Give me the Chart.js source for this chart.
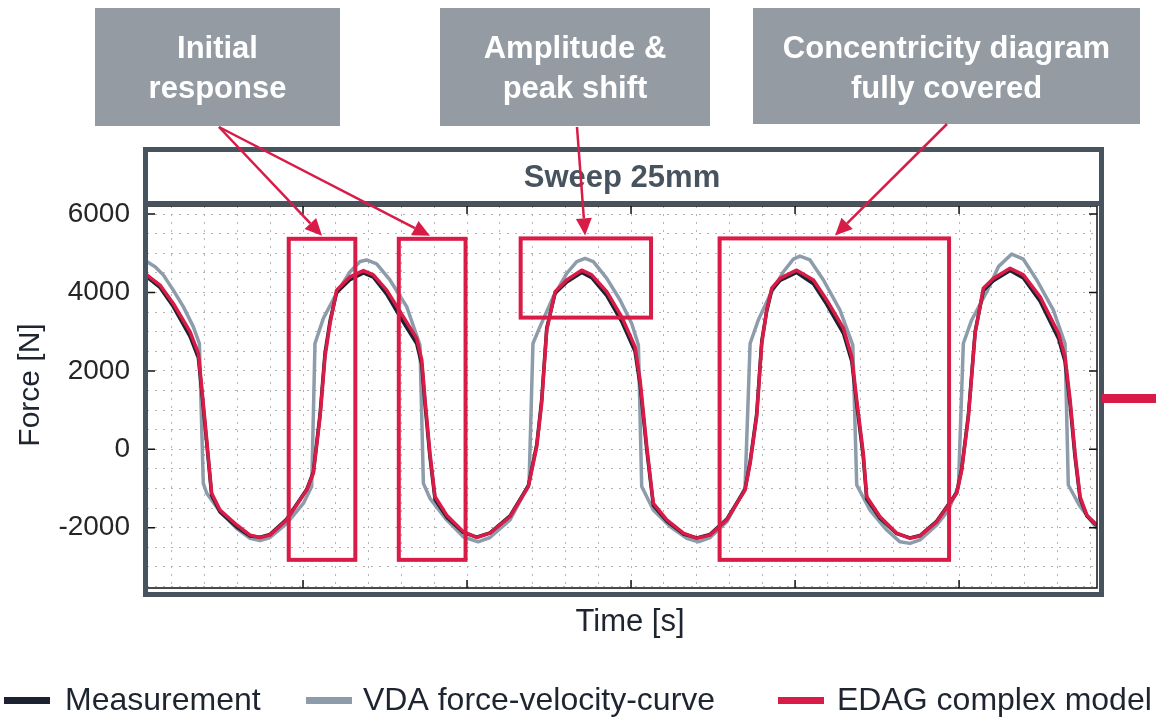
<!DOCTYPE html>
<html>
<head>
<meta charset="utf-8">
<script src="https://cdn.jsdelivr.net/npm/chart.js@4"></script>
<style>
  body { margin: 0; background: #fff; }
  canvas { display: block; }
</style>
</head>
<body>
<canvas id="chart" width="1156" height="718"></canvas>
<script>
// Sweep 25mm: force over time, three series
const edagTime = [0.047,0.128,0.209,0.311,0.362,0.382,0.413,0.443,0.494,0.596,
  0.677,0.738,0.799,0.901,1.023,1.063,1.104,1.134,1.165,1.205,
  1.287,1.368,1.429,1.510,1.612,1.693,1.724,1.744,1.774,1.805,
  1.876,1.977,2.059,2.140,2.262,2.374,2.425,2.455,2.486,2.537,
  2.608,2.699,2.760,2.852,2.943,3.024,3.055,3.096,3.136,3.218,
  3.319,3.401,3.482,3.584,3.695,3.726,3.766,3.797,3.827,3.858,
  3.909,4.010,4.112,4.193,4.295,4.346,4.376,4.416,4.437,4.518,
  4.620,4.701,4.762,4.864,4.986,5.016,5.057,5.098,5.148,5.209,
  5.311,5.392,5.494,5.606,5.646,5.677,5.707,5.738,5.779,5.840];
const edagForce = [4450,4190,3720,3000,2450,1600,240,-1120,-1550,-1930,
  -2190,-2250,-2190,-1800,-1040,-610,830,2360,3210,4060,
  4400,4560,4450,4060,3380,2830,2280,1260,-100,-1210,
  -1680,-2100,-2250,-2140,-1720,-950,70,1170,3040,4020,
  4320,4570,4450,4020,3380,2620,1770,70,-1380,-1800,
  -2140,-2270,-2190,-1800,-1040,-360,830,2700,3550,4110,
  4360,4570,4320,3810,3090,2360,1260,-100,-1210,-1720,
  -2140,-2270,-2210,-1850,-1120,-530,830,2960,4110,4360,
  4620,4450,3890,2960,2360,1260,-100,-1210,-1680,-1930];
// measurement sampled at the same times as the model
const measForce = [4400,4130,3640,2880,2330,1500,150,-1180,-1600,-1980,
  -2210,-2240,-2170,-1780,-1020,-580,900,2450,3280,4000,
  4330,4500,4390,3960,3240,2700,2160,1150,-200,-1280,
  -1730,-2120,-2240,-2130,-1700,-930,120,1250,3090,3980,
  4270,4510,4380,3920,3260,2500,1650,-20,-1430,-1830,
  -2160,-2260,-2170,-1780,-1020,-320,900,2760,3520,4060,
  4310,4510,4220,3700,2960,2240,1150,-200,-1270,-1760,
  -2150,-2260,-2200,-1830,-1100,-500,880,3000,4050,4300,
  4560,4370,3780,2830,2240,1150,-200,-1260,-1700,-1940];
const vdaTime = [0.047,0.098,0.148,0.209,0.270,0.331,0.368,0.392,0.413,0.494,
  0.596,0.677,0.738,0.799,0.901,1.002,1.053,1.073,1.124,1.205,
  1.287,1.348,1.388,1.449,1.530,1.632,1.713,1.734,1.774,1.876,
  1.977,2.067,2.140,2.262,2.378,2.402,2.445,2.526,2.608,2.669,
  2.720,2.770,2.852,2.933,3.004,3.045,3.065,3.136,3.238,3.340,
  3.410,3.482,3.584,3.695,3.726,3.776,3.848,3.929,3.990,4.030,
  4.091,4.173,4.274,4.352,4.376,4.457,4.559,4.640,4.701,4.762,
  4.864,4.935,4.996,5.026,5.077,5.169,5.240,5.321,5.392,5.474,
  5.575,5.646,5.666,5.738,5.840];
const vdaForce = [4790,4660,4450,4060,3640,3130,2700,-870,-1120,-1590,
  -2020,-2270,-2330,-2250,-1890,-1380,-950,2700,3340,3980,
  4530,4790,4830,4730,4320,3640,2660,-870,-1250,-1800,
  -2230,-2360,-2250,-1800,-890,2700,3130,3890,4490,4790,
  4870,4790,4360,3810,3210,2660,-950,-1550,-1970,-2270,
  -2360,-2250,-1850,-990,2700,3300,3940,4530,4850,4930,
  4830,4320,3550,2660,-910,-1550,-2060,-2360,-2400,-2310,
  -1930,-1550,-950,2700,3300,4020,4660,4980,4850,4320,
  3550,2700,-910,-1460,-2020];

const yTickLabels = [-2000, 0, 2000, 4000, 6000];
const xMajorTicks = [1, 2, 3, 4, 5];

// highlighted regions (time / force)
const hlStart = [0.913, 1.584, 2.327, 3.540];
const hlEnd = [1.319, 1.991, 3.122, 4.939];
const hlTop = [5370, 5370, 5380, 5380];
const hlBottom = [-2820, -2820, 3360, -2820];

const notes = [['Initial', 'response'], ['Amplitude &', 'peak shift'], ['Concentricity diagram', 'fully covered']];
const arrowNote = [0, 0, 1, 2];
const arrowBox = [0, 1, 2, 3];
const arrowTime = [1.116, 1.774, 2.720, 4.244];

const FONT = '"Liberation Sans", Arial, sans-serif';
const RED = '#d81b47';
const GRAY = '#8c9cab';
const BLACK = '#1c2230';
const FRAME = '#47535f';

const toPoints = (t, f) => t.map((v, i) => ({x: v, y: f[i]}));

// note boxes at the top, in page pixels
const noteBoxes = [
  {x: 95, y: 8, w: 245, h: 118},
  {x: 440, y: 8, w: 270, h: 118},
  {x: 753, y: 8, w: 387, h: 116}
];

function arrow(ctx, x1, y1, x2, y2) {
  const a = Math.atan2(y2 - y1, x2 - x1);
  const len = 17, half = 8;
  const bx = x2 - len * Math.cos(a), by = y2 - len * Math.sin(a);
  ctx.beginPath();
  ctx.moveTo(x1, y1);
  ctx.lineTo(bx, by);
  ctx.stroke();
  ctx.beginPath();
  ctx.moveTo(x2, y2);
  ctx.lineTo(bx + half * Math.sin(a), by - half * Math.cos(a));
  ctx.lineTo(bx - half * Math.sin(a), by + half * Math.cos(a));
  ctx.closePath();
  ctx.fill();
}

const decor = {
  id: 'decor',
  beforeDraw(chart) {
    const ctx = chart.ctx;
    ctx.save();
    ctx.fillStyle = '#fff';
    ctx.fillRect(0, 0, chart.width, chart.height);
    ctx.restore();
  },
  afterDatasetsDraw(chart) {
    const ctx = chart.ctx;
    const x = chart.scales.x, y = chart.scales.y;
    const area = chart.chartArea;
    ctx.save();

    // highlight rectangles
    ctx.strokeStyle = RED;
    ctx.lineWidth = 4;
    hlStart.forEach((s, i) => {
      const l = x.getPixelForValue(s), r = x.getPixelForValue(hlEnd[i]);
      const t = y.getPixelForValue(hlTop[i]), b = y.getPixelForValue(hlBottom[i]);
      ctx.strokeRect(l, t, r - l, b - t);
    });

    // axis border + inner ticks
    ctx.strokeStyle = '#111';
    ctx.lineWidth = 1.5;
    ctx.strokeRect(area.left, area.top, area.right - area.left, area.bottom - area.top);
    ctx.beginPath();
    xMajorTicks.forEach(v => {
      const px = x.getPixelForValue(v);
      ctx.moveTo(px, area.top); ctx.lineTo(px, area.top + 8);
      ctx.moveTo(px, area.bottom); ctx.lineTo(px, area.bottom - 8);
    });
    yTickLabels.forEach(v => {
      const py = y.getPixelForValue(v);
      ctx.moveTo(area.left, py); ctx.lineTo(area.left + 8, py);
      ctx.moveTo(area.right, py); ctx.lineTo(area.right - 8, py);
    });
    ctx.stroke();

    // frame with title band
    ctx.strokeStyle = FRAME;
    ctx.lineWidth = 5;
    ctx.strokeRect(145.5, 149.5, 956, 445);
    ctx.beginPath();
    ctx.moveTo(143, 203.5); ctx.lineTo(1104, 203.5);
    ctx.stroke();
    ctx.fillStyle = FRAME;
    ctx.font = 'bold 31px ' + FONT;
    ctx.textAlign = 'center';
    ctx.textBaseline = 'middle';
    ctx.fillText('Sweep 25mm', (area.left + area.right) / 2, 178);

    // note boxes
    noteBoxes.forEach((b, i) => {
      ctx.fillStyle = '#949ba2';
      ctx.fillRect(b.x, b.y, b.w, b.h);
      ctx.fillStyle = '#fff';
      ctx.font = 'bold 31px ' + FONT;
      ctx.fillText(notes[i][0], b.x + b.w / 2, 49);
      ctx.fillText(notes[i][1], b.x + b.w / 2, 89);
    });

    // arrows from notes to highlighted regions
    ctx.strokeStyle = RED;
    ctx.fillStyle = RED;
    ctx.lineWidth = 2.5;
    const starts = [[219, 127], [577, 127], [947, 124]];
    arrowTime.forEach((t, i) => {
      const s = starts[arrowNote[i]];
      arrow(ctx, s[0], s[1], x.getPixelForValue(t), y.getPixelForValue(hlTop[arrowBox[i]]) - 3);
    });

    // axis titles
    ctx.fillStyle = '#1e2530';
    ctx.font = '31px ' + FONT;
    ctx.fillText('Time [s]', 630, 622);
    ctx.save();
    ctx.translate(31, 385);
    ctx.rotate(-Math.PI / 2);
    ctx.font = '30px ' + FONT;
    ctx.fillText('Force [N]', 0, 0);
    ctx.restore();

    // legend
    const legendPos = [[4, 65], [306, 363], [778, 837]];
    ctx.textAlign = 'left';
    ctx.font = '32px ' + FONT;
    chart.data.datasets.forEach((ds, i) => {
      const p = legendPos[i];
      ctx.fillStyle = ds.borderColor;
      ctx.fillRect(p[0], 697, 46, 7);
      ctx.fillStyle = '#1e2530';
      ctx.fillText(ds.label, p[1], 701);
    });

    // side marker
    ctx.fillStyle = RED;
    ctx.fillRect(1102, 394, 54, 9);
    ctx.restore();
  }
};

const xGrid = [];
for (let k = 1; k <= 29; k++) xGrid.push(Math.round(k * 2) / 10);
const yGrid = [];
for (let v = -3500; v <= 6000; v += 500) yGrid.push(v);

new Chart(document.getElementById('chart'), {
  type: 'line',
  data: {
    datasets: [
      {label: 'Measurement', data: toPoints(edagTime, measForce), borderColor: BLACK, order: 1},
      {label: 'VDA force-velocity-curve', data: toPoints(vdaTime, vdaForce), borderColor: GRAY, order: 2},
      {label: 'EDAG complex model', data: toPoints(edagTime, edagForce), borderColor: RED, order: 0}
    ].map(d => Object.assign(d, {borderWidth: 3.5, pointRadius: 0, tension: 0, fill: false, borderJoinStyle: 'round'}))
  },
  options: {
    responsive: false,
    animation: false,
    devicePixelRatio: 1,
    layout: {padding: {top: 206, right: 59, left: 0, bottom: 0}},
    plugins: {legend: {display: false}, title: {display: false}, tooltip: {enabled: false}},
    scales: {
      x: {
        type: 'linear',
        min: 0.0488,
        max: 5.841,
        afterBuildTicks: s => { s.ticks = xGrid.map(v => ({value: v})); },
        afterFit: s => { s.height = 130; },
        ticks: {display: false, autoSkip: false},
        grid: {color: '#b5b5b5', lineWidth: 1, drawTicks: false},
        border: {display: false, dash: [2, 6]}
      },
      y: {
        min: -3538,
        max: 6207,
        afterBuildTicks: s => { s.ticks = yGrid.map(v => ({value: v})); },
        afterFit: s => { s.width = 147; },
        ticks: {
          autoSkip: false,
          padding: 17,
          color: '#262626',
          font: {size: 28, family: FONT},
          callback: v => yTickLabels.includes(v) ? String(v) : ''
        },
        grid: {color: '#b5b5b5', lineWidth: 1, drawTicks: false},
        border: {display: false, dash: [2, 6]}
      }
    }
  },
  plugins: [decor]
});
</script>
</body>
</html>
